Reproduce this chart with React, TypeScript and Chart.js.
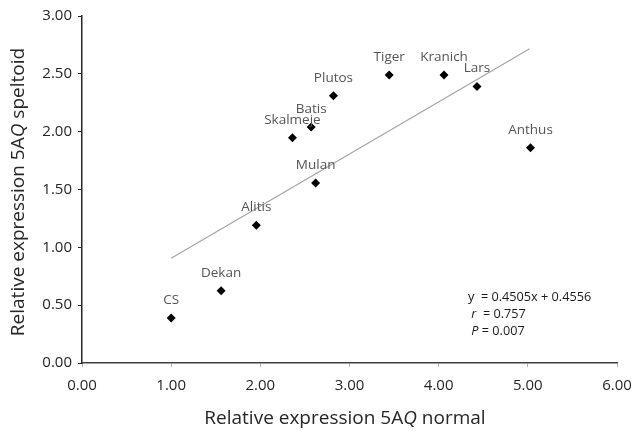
import React, { useEffect, useRef } from "react";
import { Chart, registerables } from "chart.js";

Chart.register(...registerables);

const names = ["CS", "Dekan", "Alitis", "Skalmeje", "Batis", "Mulan", "Plutos", "Tiger", "Kranich", "Lars", "Anthus"];
const xValues = [1.0, 1.56, 1.955, 2.36, 2.57, 2.62, 2.82, 3.445, 4.06, 4.43, 5.03];
const yValues = [0.39, 0.625, 1.19, 1.947, 2.04, 1.556, 2.31, 2.49, 2.49, 2.39, 1.86];
const trendX = [1.0, 5.02];
const trendY = [0.906, 2.717];
const statLines = [
  [{ t: "y", i: false }, { t: "  = 0.4505x + 0.4556", i: false }],
  [{ t: " r", i: true }, { t: "  = 0.757", i: false }],
  [{ t: " P", i: true }, { t: " = 0.007", i: false }],
];
const xTitleParts = [{ t: "Relative expression 5A", i: false }, { t: "Q", i: true }, { t: " normal", i: false }];
const yTitleParts = [{ t: "Relative expression 5A", i: false }, { t: "Q", i: true }, { t: " speltoid", i: false }];

const FONT = "'Open Sans', 'Noto Sans', sans-serif";

function drawParts(ctx: CanvasRenderingContext2D, parts: { t: string; i: boolean }[], size: number, x: number, y: number, align: "center" | "left") {
  const widths = parts.map((p) => {
    ctx.font = `${p.i ? "italic " : ""}${size}px ${FONT}`;
    return ctx.measureText(p.t).width;
  });
  const total = widths.reduce((a, b) => a + b, 0);
  let cx = align === "center" ? x - total / 2 : x;
  ctx.textAlign = "left";
  parts.forEach((p, k) => {
    ctx.font = `${p.i ? "italic " : ""}${size}px ${FONT}`;
    ctx.fillText(p.t, cx, y);
    cx += widths[k];
  });
}

const overlayPlugin = {
  id: "overlay",
  afterDatasetsDraw(chart: any) {
    const ctx = chart.ctx as CanvasRenderingContext2D;
    const xs = chart.scales.x;
    const ys = chart.scales.y;
    ctx.save();
    // point labels
    ctx.fillStyle = "#555555";
    ctx.font = `13.5px ${FONT}`;
    ctx.textAlign = "center";
    ctx.textBaseline = "middle";
    names.forEach((n, i) => {
      ctx.fillText(n, xs.getPixelForValue(xValues[i]), ys.getPixelForValue(yValues[i]) - 18);
    });
    // stats
    ctx.fillStyle = "#1a1a1a";
    ctx.textBaseline = "middle";
    statLines.forEach((line, k) => {
      drawParts(ctx, line, 12.7, 468, 297 + k * 17, "left");
    });
    // axis titles
    ctx.fillStyle = "#262626";
    drawParts(ctx, xTitleParts, 19, 345, 419, "center");
    ctx.save();
    ctx.translate(19, 192);
    ctx.rotate(-Math.PI / 2);
    drawParts(ctx, yTitleParts, 19, 0, 0, "center");
    ctx.restore();
    ctx.restore();
  },
};

export default function App() {
  const ref = useRef<HTMLCanvasElement>(null);
  useEffect(() => {
    if (!ref.current) return;
    const chart = new Chart(ref.current, {
      type: "scatter",
      data: {
        datasets: [
          {
            label: "trend",
            type: "line",
            data: trendX.map((x, i) => ({ x, y: trendY[i] })),
            borderColor: "#a6a6a6",
            borderWidth: 1.3,
            pointRadius: 0,
            fill: false,
          } as any,
          {
            label: "points",
            data: xValues.map((x, i) => ({ x, y: yValues[i] })),
            pointStyle: "rectRot",
            pointRadius: 4.5,
            backgroundColor: "#000",
            borderColor: "#000",
            borderWidth: 0,
          },
        ],
      },
      options: {
        animation: false,
        responsive: false,
        maintainAspectRatio: false,
        layout: { padding: { top: 16, right: 15, left: 0, bottom: 0 } },
        plugins: { legend: { display: false }, tooltip: { enabled: false } },
        scales: {
          x: {
            type: "linear",
            min: 0,
            max: 6,
            ticks: {
              stepSize: 1,
              callback: (v: any) => Number(v).toFixed(2),
              color: "#262626",
              font: { size: 15, family: FONT },
              padding: 10,
              maxRotation: 0,
            },
            grid: { drawOnChartArea: false, drawTicks: true, tickLength: 4, color: "#b0b0b0" },
            border: { display: true, color: "#404040", width: 1.5 },
            afterFit: (s: any) => {
              s.height = 68;
              s.paddingRight = 0;
              s.paddingLeft = 0;
            },
          },
          y: {
            type: "linear",
            min: 0,
            max: 3,
            ticks: {
              stepSize: 0.5,
              callback: (v: any) => Number(v).toFixed(2),
              color: "#262626",
              font: { size: 15, family: FONT },
              padding: 6,
            },
            grid: { drawOnChartArea: false, drawTicks: true, tickLength: 4, color: "#262626" },
            border: { display: true, color: "#262626", width: 1.5 },
            afterFit: (s: any) => {
              s.width = 82;
              s.paddingTop = 0;
              s.paddingBottom = 0;
            },
          },
        },
      },
      plugins: [overlayPlugin],
    });
    return () => chart.destroy();
  }, []);
  return (
    <div style={{ position: "absolute", left: 0, top: 0, width: 632, height: 431, background: "#fff" }}>
      <canvas ref={ref} width={632} height={431} style={{ width: 632, height: 431 }} />
    </div>
  );
}
